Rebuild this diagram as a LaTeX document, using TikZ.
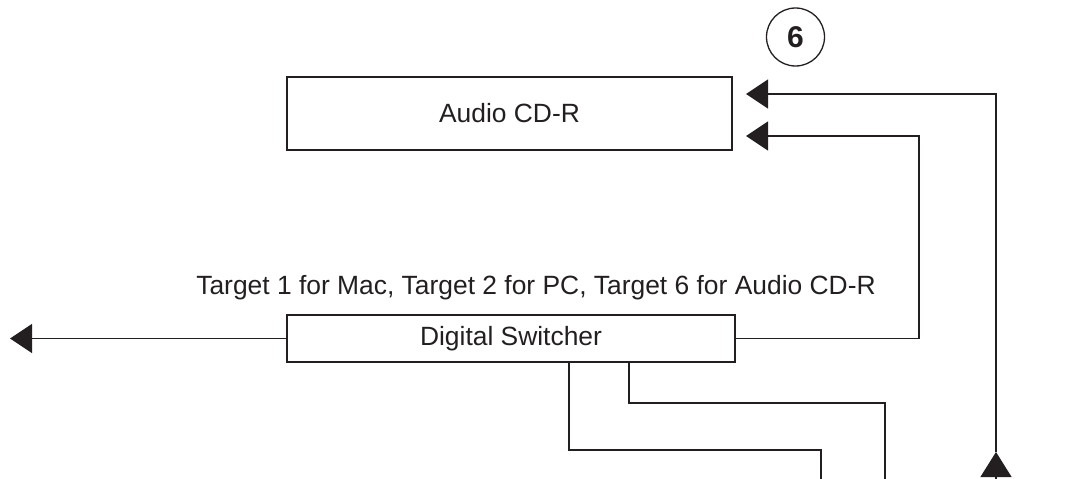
\documentclass[tikz,border=0pt]{standalone}
\usepackage{fontspec}
\setmainfont{Liberation Sans}
\usetikzlibrary{arrows.meta}
\definecolor{ink}{HTML}{231F20}
\begin{document}
\begin{tikzpicture}[x=1pt,y=-1pt, line width=1.3pt, draw=ink, text=ink,
  box/.style={draw=ink, inner sep=0pt, line width=1.4pt, font=\fontsize{26.4}{30}\selectfont},
  lbl/.style={inner sep=0pt, font=\fontsize{26.4}{30}\selectfont},
  arr/.style={draw=ink, -{Triangle[length=22pt,width=29pt]}},
  arrbig/.style={draw=ink, -{Triangle[length=25pt,width=31pt]}}]
\useasboundingbox (0,0) rectangle (1074,479);
\clip (0,0) rectangle (1074,479);
\node[box, minimum width=445pt, minimum height=73pt] (cd) at (509.5,113.5) {Audio CD-R};
\node[box, minimum width=448pt, minimum height=47pt] (sw) at (511,338.5) {Digital Switcher};
\node[lbl] (tgt) at (536,288) {Target 1 for Mac, Target 2 for PC, Target 6 for Audio CD-R};
\node[draw=ink, circle, line width=1.3pt, minimum size=58pt, inner sep=0pt, font=\fontsize{30}{34}\selectfont\bfseries] (six) at (795.5,37) {6};
\coordinate (t1) at (746,94);
\coordinate (t2) at (746,136);
\coordinate (c2) at (919,136);
\coordinate (out) at (10,338.5);
\coordinate (bot) at (996,495);
\coordinate (up) at (996,452);
\coordinate (k1) at (569,450);
\coordinate (d1) at (821,490);
\coordinate (k2) at (629,403);
\coordinate (d2) at (885,490);
\draw[arr] (sw.west) -- (out);
\draw[arr] (sw.east) -| (c2) -- (t2);
\draw[arrbig] (bot) -- (up);
\draw[arr] (up) |- (t1);
\draw (sw.south -| k1) -- (k1) -| (d1);
\draw (sw.south -| k2) -- (k2) -| (d2);
\end{tikzpicture}
\end{document}
